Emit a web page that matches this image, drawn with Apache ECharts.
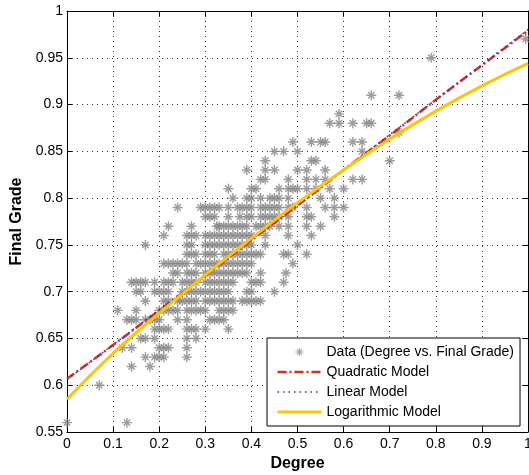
<!DOCTYPE html>
<html>
<head>
<meta charset="utf-8">
<script src="https://cdn.jsdelivr.net/npm/echarts@6/dist/echarts.min.js"></script>
<style>html,body{margin:0;padding:0;background:#fff;}#c{width:529px;height:475px;}</style>
</head>
<body>
<div id="c"></div>
<script>
// Scatter data: each row is [final grade, list of degree values at that grade]
const dataRows = [
  [0.97, [0.995]],
  [0.95, [0.79]],
  [0.91, [0.66, 0.72]],
  [0.89, [0.59]],
  [0.88, [0.57, 0.59, 0.62, 0.65, 0.66]],
  [0.87, [0.72]],
  [0.86, [0.49, 0.53, 0.55, 0.56, 0.62, 0.64]],
  [0.85, [0.45, 0.47, 0.50, 0.64]],
  [0.84, [0.43, 0.53, 0.54, 0.70]],
  [0.83, [0.39, 0.43, 0.45, 0.50, 0.52, 0.56]],
  [0.82, [0.42, 0.43, 0.48, 0.52, 0.54, 0.56, 0.62, 0.64]],
  [0.81, [0.35, 0.40, 0.41, 0.46, 0.48, 0.49, 0.50, 0.52, 0.54, 0.57, 0.60]],
  [0.80, [0.36, 0.39, 0.40, 0.42, 0.44, 0.45, 0.46, 0.48, 0.55, 0.58]],
  [0.79, [0.24, 0.29, 0.30, 0.31, 0.32, 0.33, 0.35, 0.37, 0.38, 0.39, 0.40, 0.42, 0.43, 0.44, 0.45, 0.46, 0.48, 0.49, 0.52, 0.56, 0.58, 0.60]],
  [0.78, [0.30, 0.31, 0.32, 0.35, 0.375, 0.39, 0.40, 0.42, 0.43, 0.44, 0.45, 0.46, 0.48, 0.52, 0.53, 0.58]],
  [0.77, [0.22, 0.27, 0.325, 0.33, 0.34, 0.35, 0.36, 0.37, 0.38, 0.39, 0.41, 0.42, 0.43, 0.44, 0.46, 0.48, 0.52, 0.55]],
  [0.76, [0.21, 0.26, 0.27, 0.28, 0.30, 0.31, 0.32, 0.33, 0.34, 0.35, 0.36, 0.37, 0.38, 0.39, 0.40, 0.43, 0.48, 0.53]],
  [0.75, [0.17, 0.26, 0.27, 0.30, 0.31, 0.32, 0.33, 0.34, 0.35, 0.36, 0.37, 0.38, 0.39, 0.40, 0.43, 0.50]],
  [0.74, [0.26, 0.27, 0.28, 0.30, 0.31, 0.32, 0.34, 0.35, 0.36, 0.37, 0.38, 0.39, 0.40, 0.41, 0.42, 0.47, 0.48, 0.52]],
  [0.73, [0.21, 0.22, 0.23, 0.24, 0.25, 0.26, 0.28, 0.29, 0.30, 0.31, 0.32, 0.33, 0.34, 0.35, 0.36, 0.37, 0.38, 0.39, 0.40, 0.49]],
  [0.72, [0.23, 0.24, 0.26, 0.27, 0.28, 0.30, 0.31, 0.32, 0.33, 0.34, 0.35, 0.36, 0.37, 0.38, 0.39, 0.42, 0.475]],
  [0.71, [0.14, 0.15, 0.16, 0.17, 0.19, 0.21, 0.22, 0.23, 0.25, 0.26, 0.27, 0.28, 0.30, 0.31, 0.32, 0.33, 0.34, 0.35, 0.36, 0.40, 0.41, 0.42, 0.47]],
  [0.70, [0.15, 0.16, 0.19, 0.20, 0.21, 0.22, 0.25, 0.26, 0.27, 0.28, 0.29, 0.30, 0.31, 0.32, 0.33, 0.34, 0.35, 0.39, 0.40, 0.45]],
  [0.69, [0.17, 0.21, 0.22, 0.24, 0.25, 0.26, 0.27, 0.28, 0.30, 0.31, 0.32, 0.33, 0.34, 0.35, 0.36, 0.38, 0.39, 0.40, 0.41, 0.42]],
  [0.68, [0.11, 0.15, 0.20, 0.21, 0.22, 0.23, 0.24, 0.26, 0.27, 0.28, 0.29, 0.30, 0.33, 0.34, 0.35, 0.36]],
  [0.67, [0.13, 0.14, 0.15, 0.17, 0.18, 0.19, 0.20, 0.24, 0.26, 0.31, 0.32, 0.33, 0.34]],
  [0.66, [0.19, 0.20, 0.21, 0.22, 0.26, 0.27, 0.28, 0.30, 0.35]],
  [0.65, [0.16, 0.17, 0.19, 0.26, 0.28]],
  [0.64, [0.12, 0.14, 0.20, 0.21, 0.22, 0.26]],
  [0.63, [0.17, 0.19, 0.20, 0.21, 0.26]],
  [0.62, [0.14, 0.18]],
  [0.60, [0.07]],
  [0.56, [0.0, 0.13]]
];

// Model curves
const modelX     = [0, 0.1, 0.2, 0.3, 0.4, 0.5, 0.6, 0.7, 0.8, 0.9, 1.0];
const quadraticY = [0.607, 0.643, 0.680, 0.717, 0.755, 0.792, 0.830, 0.867, 0.905, 0.942, 0.979];
const logY       = [0.585, 0.634, 0.677, 0.718, 0.757, 0.795, 0.830, 0.863, 0.893, 0.920, 0.944];
const linearX    = [0, 1];
const linearY    = [0.606, 0.980];

const xTicks = { min: 0, max: 1, interval: 0.1 };
const yTicks = { min: 0.55, max: 1, interval: 0.05 };

const scatterPts = [];
dataRows.forEach(r => r[1].forEach(x => scatterPts.push([x, r[0]])));
const zip = (xs, ys) => xs.map((x, i) => [x, ys[i]]);

const FONT = 'Liberation Sans';
const starBody = 'M0 8.6H20V11.4H0Z M8.6 0H11.4V20H8.6Z M4.6 2.6L17.4 15.4L15.4 17.4L2.6 4.6Z M15.4 2.6L17.4 4.6L4.6 17.4L2.6 15.4Z';
const asterisk = 'path://' + starBody;
// legend icon: same glyph, padded so it draws smaller inside the legend box
const asteriskLegend = 'path://' + starBody + ' M-7 -7L-6.99 -7L-7 -6.99Z M27 27L26.99 27L27 26.99Z';

const quadStyle = { color: '#d9300f', width: 2.5, type: [9, 3, 2, 3] };
const linStyle  = { color: '#2a2aff', width: 1.5, type: [1.5, 4] };
const logStyle  = { color: '#ffc600', width: 3, type: 'solid' };
const hiddenMarker = { color: 'rgba(0,0,0,0)', borderWidth: 0, opacity: 0 };

const chart = echarts.init(document.getElementById('c'), null, { renderer: 'canvas' });

const axisCommon = {
  axisLine: { show: true, onZero: false, lineStyle: { color: '#000', width: 1 } },
  axisTick: { show: true, inside: true, length: 5, lineStyle: { color: '#000' } },
};

chart.setOption({
  animation: false,
  backgroundColor: '#fff',
  textStyle: { fontFamily: FONT },
  grid: { left: 67, top: 11, right: 1, bottom: 43, containLabel: false, outerBoundsMode: 'none' },
  xAxis: [
    Object.assign({
      type: 'value', min: xTicks.min, max: xTicks.max, interval: xTicks.interval,
      name: 'Degree', nameLocation: 'middle', nameGap: 23,
      nameTextStyle: { fontFamily: FONT, fontWeight: 'bold', fontSize: 16, color: '#000' },
      axisLabel: { fontFamily: FONT, fontSize: 14, color: '#000', margin: 5 },
      splitLine: { show: true, lineStyle: { color: '#333', width: 1, type: [1, 4] } }
    }, axisCommon),
    Object.assign({
      type: 'value', position: 'top', min: xTicks.min, max: xTicks.max, interval: xTicks.interval,
      axisLabel: { show: false }, splitLine: { show: false }
    }, axisCommon)
  ],
  yAxis: [
    Object.assign({
      type: 'value', min: yTicks.min, max: yTicks.max, interval: yTicks.interval,
      name: 'Final Grade', nameLocation: 'middle', nameGap: 40,
      nameTextStyle: { fontFamily: FONT, fontWeight: 'bold', fontSize: 16, color: '#000' },
      axisLabel: { fontFamily: FONT, fontSize: 14, color: '#000', margin: 4 },
      splitLine: { show: true, lineStyle: { color: '#333', width: 1, type: [1, 4] } }
    }, axisCommon),
    Object.assign({
      type: 'value', position: 'right', min: yTicks.min, max: yTicks.max, interval: yTicks.interval,
      axisLabel: { show: false }, splitLine: { show: false }
    }, axisCommon)
  ],
  legend: {
    orient: 'vertical', left: 267, top: 338,
    padding: [7, 6, 7, 9], itemWidth: 44, itemHeight: 14, itemGap: 6,
    backgroundColor: '#fff', borderColor: '#000', borderWidth: 1, borderRadius: 0,
    textStyle: { fontFamily: FONT, fontSize: 14, color: '#000' },
    data: [
      { name: 'Data (Degree vs. Final Grade)', icon: asteriskLegend, itemStyle: { color: '#909090' } },
      { name: 'Quadratic Model', itemStyle: hiddenMarker, lineStyle: Object.assign({ opacity: 1 }, quadStyle) },
      { name: 'Linear Model', itemStyle: hiddenMarker, lineStyle: Object.assign({ opacity: 1 }, linStyle) },
      { name: 'Logarithmic Model', itemStyle: hiddenMarker, lineStyle: Object.assign({ opacity: 1 }, logStyle) }
    ]
  },
  series: [
    {
      name: 'Data (Degree vs. Final Grade)', type: 'scatter',
      data: scatterPts, symbol: asterisk, symbolSize: 10, symbolKeepAspect: true,
      itemStyle: { color: '#858585' }, z: 2
    },
    {
      name: 'Quadratic Model', type: 'line', data: zip(modelX, quadraticY),
      symbol: 'none', showSymbol: false, smooth: true,
      lineStyle: quadStyle, itemStyle: { color: quadStyle.color }, z: 3
    },
    {
      name: 'Linear Model', type: 'line', data: zip(linearX, linearY),
      symbol: 'none', showSymbol: false,
      lineStyle: linStyle, itemStyle: { color: linStyle.color }, z: 4
    },
    {
      name: 'Logarithmic Model', type: 'line', data: zip(modelX, logY),
      symbol: 'none', showSymbol: false, smooth: true,
      lineStyle: logStyle, itemStyle: { color: logStyle.color }, z: 5
    }
  ]
});
</script>
</body>
</html>
